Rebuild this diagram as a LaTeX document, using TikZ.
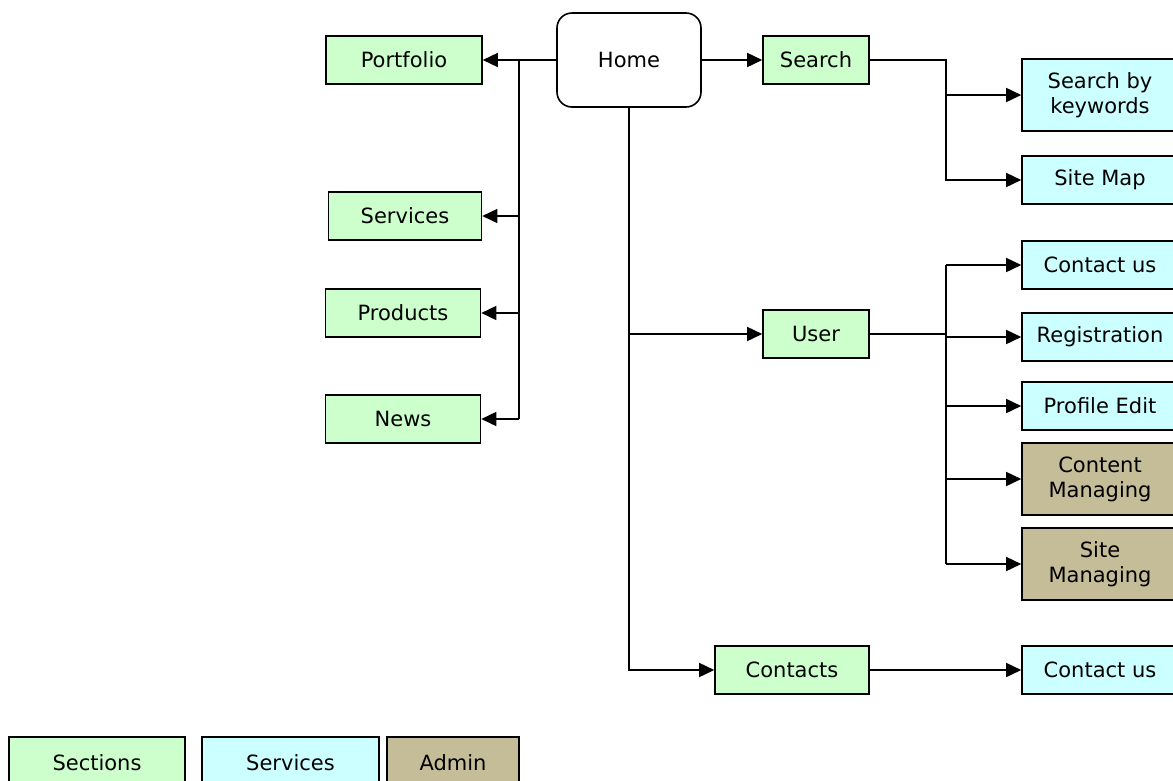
\documentclass[tikz,border=0pt]{standalone}
\usepackage{fontspec}
\setmainfont{DejaVu Sans}
\usetikzlibrary{arrows.meta, positioning}

\definecolor{secgreen}{HTML}{CCFFCC}
\definecolor{servcyan}{HTML}{CCFFFF}
\definecolor{admintan}{HTML}{C4BD97}

\tikzset{
  box/.style={draw, line width=1.6pt, inner sep=0pt, align=center, minimum height=48pt},
  section/.style={box, fill=secgreen},
  service/.style={box, fill=servcyan, minimum width=156pt},
  admin/.style={box, fill=admintan, minimum width=156pt, minimum height=72pt},
  link/.style={->, line width=1.6pt},
}

\begin{document}
\begin{tikzpicture}[x=1pt, y=-1pt, >={Triangle[length=15pt, width=14pt]}, font=\fontsize{21}{25}\selectfont]
  \useasboundingbox (0,0) rectangle (1173,780);

  % top node and sections
  \node[draw, line width=1.6pt, rounded corners=15pt, minimum width=144pt, minimum height=94pt] (home) at (629,60) {Home};
  \node[section, minimum width=156pt] (portfolio) at (404,60) {Portfolio};
  \node[section, minimum width=153pt] (services) at (405,216) {Services};
  \node[section, minimum width=155pt] (products) at (403,313) {Products};
  \node[section, minimum width=155pt] (news) at (403,419) {News};
  \node[section, minimum width=106pt] (search) at (816,60) {Search};
  \node[section, minimum width=106pt] (user) at (816,334) {User};
  \node[section, minimum width=154pt] (contacts) at (792,670) {Contacts};

  % services and admin pages
  \node[service, minimum height=72pt] (keywords) at (1100,95) {Search by\\keywords};
  \node[service] (sitemap) at (1100,180) {Site Map};
  \node[service] (contactus) at (1100,265) {Contact us};
  \node[service] (registration) at (1100,337) {Registration};
  \node[service] (profile) at (1100,406) {Profile Edit};
  \node[admin] (content) at (1100,479) {Content\\Managing};
  \node[admin] (sitemng) at (1100,564) {Site\\Managing};
  \node[service] (contactusb) at (1100,670) {Contact us};

  % legend
  \node[section, minimum width=176pt, minimum height=52pt] (legsec) at (97,763) {Sections};
  \node[service, minimum width=177pt, minimum height=52pt] (legserv) at (290.5,763) {Services};
  \node[admin, minimum width=132pt, minimum height=52pt] (legadm) at (453,763) {Admin};

  % left branch
  \coordinate (lt) at (519,60);
  \draw[link] (home.west) -- (portfolio.east);
  \draw[line width=1.6pt] (lt) -- (lt |- news);
  \foreach \n in {services, products, news} {
    \draw[link] (lt |- \n) -- (\n.east);
  }

  % down the middle
  \draw[link] (home.east) -- (search.west);
  \draw[link] (home.south) |- (contacts.west);
  \draw[link] (home.south |- user) -- (user.west);

  % search branch
  \coordinate (st) at (946,60);
  \draw[link] (search.east) -- (st) |- (sitemap.west);
  \draw[link] (st |- keywords) -- (keywords.west);

  % user branch
  \coordinate (ut) at (946,334);
  \draw[line width=1.6pt] (user.east) -- (ut);
  \draw[line width=1.6pt] (ut |- contactus) -- (ut |- sitemng);
  \foreach \n in {contactus, registration, profile, content, sitemng} {
    \draw[link] (ut |- \n) -- (\n.west);
  }

  \draw[link] (contacts.east) -- (contactusb.west);
\end{tikzpicture}
\end{document}
